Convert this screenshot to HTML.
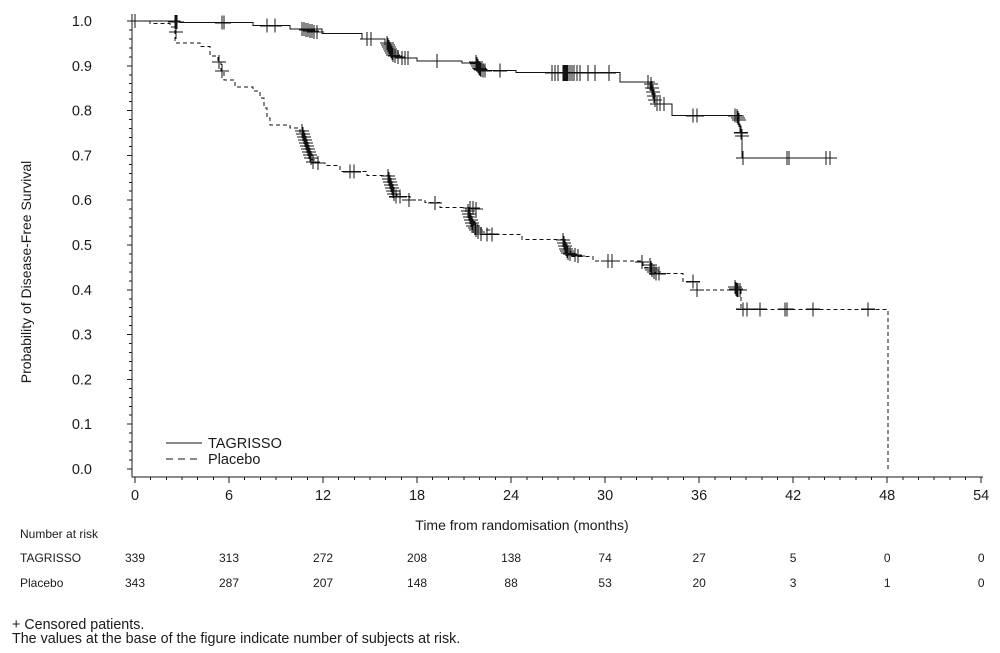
<!DOCTYPE html>
<html><head><meta charset="utf-8"><style>
html,body{margin:0;padding:0;background:#fff;}
svg{display:block;}
text{font-family:"Liberation Sans",Arial,sans-serif;fill:#1a1a1a;}
</style></head><body>
<svg width="1000" height="653" viewBox="0 0 1000 653" xmlns="http://www.w3.org/2000/svg">
<rect width="1000" height="653" fill="#fff"/>
<!-- axes -->
<g stroke="#1a1a1a" stroke-width="1" fill="none" shape-rendering="crispEdges">
<path d="M132,14V477H983"/>
<path d="M132,469h-5M132,424.2h-5M132,379.4h-5M132,334.6h-5M132,289.8h-5M132,245h-5M132,200.2h-5M132,155.4h-5M132,110.6h-5M132,65.8h-5M132,21h-5"/>
<path d="M132,460.04h-3M132,451.08h-3M132,442.12h-3M132,433.16h-3M132,415.24h-3M132,406.28h-3M132,397.32h-3M132,388.36h-3M132,370.44h-3M132,361.48h-3M132,352.52h-3M132,343.56h-3M132,325.64h-3M132,316.68h-3M132,307.72h-3M132,298.76h-3M132,280.84h-3M132,271.88h-3M132,262.92h-3M132,253.96h-3M132,236.04h-3M132,227.08h-3M132,218.12h-3M132,209.16h-3M132,191.24h-3M132,182.28h-3M132,173.32h-3M132,164.36h-3M132,146.44h-3M132,137.48h-3M132,128.52h-3M132,119.56h-3M132,101.64h-3M132,92.68h-3M132,83.72h-3M132,74.76h-3M132,56.84h-3M132,47.88h-3M132,38.92h-3M132,29.96h-3"/>
<path d="M135,477v6M229.02,477v6M323.04,477v6M417.06,477v6M511.08,477v6M605.1,477v6M699.12,477v6M793.14,477v6M887.16,477v6M981.18,477v6"/>
<path d="M150.67,477v3M166.34,477v3M182.01,477v3M197.68,477v3M213.35,477v3M244.69,477v3M260.36,477v3M276.03,477v3M291.7,477v3M307.37,477v3M338.71,477v3M354.38,477v3M370.05,477v3M385.72,477v3M401.39,477v3M432.73,477v3M448.4,477v3M464.07,477v3M479.74,477v3M495.41,477v3M526.75,477v3M542.42,477v3M558.09,477v3M573.76,477v3M589.43,477v3M620.77,477v3M636.44,477v3M652.11,477v3M667.78,477v3M683.45,477v3M714.79,477v3M730.46,477v3M746.13,477v3M761.8,477v3M777.47,477v3M808.81,477v3M824.48,477v3M840.15,477v3M855.82,477v3M871.49,477v3M902.83,477v3M918.5,477v3M934.17,477v3M949.84,477v3M965.51,477v3"/>
</g>
<!-- y tick labels -->
<g font-size="14.5" text-anchor="end">
<text x="92" y="474">0.0</text>
<text x="92" y="429.2">0.1</text>
<text x="92" y="384.4">0.2</text>
<text x="92" y="339.6">0.3</text>
<text x="92" y="294.8">0.4</text>
<text x="92" y="250">0.5</text>
<text x="92" y="205.2">0.6</text>
<text x="92" y="160.4">0.7</text>
<text x="92" y="115.6">0.8</text>
<text x="92" y="70.8">0.9</text>
<text x="92" y="26">1.0</text>
</g>
<!-- x tick labels -->
<g font-size="14.5" text-anchor="middle">
<text x="135" y="500">0</text>
<text x="229.02" y="500">6</text>
<text x="323.04" y="500">12</text>
<text x="417.06" y="500">18</text>
<text x="511.08" y="500">24</text>
<text x="605.1" y="500">30</text>
<text x="699.12" y="500">36</text>
<text x="793.14" y="500">42</text>
<text x="887.16" y="500">48</text>
<text x="981.18" y="500">54</text>
</g>
<text x="522" y="530" font-size="14" text-anchor="middle">Time from randomisation (months)</text>
<text transform="translate(31,272) rotate(-90)" font-size="14" text-anchor="middle">Probability of Disease-Free Survival</text>

<!-- TAGRISSO curve -->
<path fill="none" stroke="#111" stroke-width="1" shape-rendering="crispEdges" d="M135,21H180V22.7H253V25.7H290V29H322V33.5H362V39H385V45H389V52H393V56H397V58H417V61H462V63H476V66H480V70.7H516V72.7H620V82H650V90H653V98H655V104H672V115.7H738V124H740V132.7H742V158H835"/>
<!-- TAGRISSO censors -->
<path fill="none" stroke="#111" stroke-width="1.2" shape-rendering="crispEdges" d="M135,21m-7,0h14m-7,-7v14M175,22m-7,0h14m-7,-7v14M176,22m-7,0h14m-7,-7v14M177,22m-7,0h14m-7,-7v14M222,22.7m-7,0h14m-7,-7v14M224,22.7m-7,0h14m-7,-7v14M267,25.7m-7,0h14m-7,-7v14M275,25.7m-7,0h14m-7,-7v14M302,29m-7,0h14m-7,-7v14M304,29m-7,0h14m-7,-7v14M306,30m-7,0h14m-7,-7v14M308,30m-7,0h14m-7,-7v14M310,31m-7,0h14m-7,-7v14M312,31m-7,0h14m-7,-7v14M314,32m-7,0h14m-7,-7v14M317,32m-7,0h14m-7,-7v14M367,39m-7,0h14m-7,-7v14M371,39m-7,0h14m-7,-7v14M387,43m-7,0h14m-7,-7v14M388,45m-7,0h14m-7,-7v14M389,47m-7,0h14m-7,-7v14M390,49m-7,0h14m-7,-7v14M391,51m-7,0h14m-7,-7v14M392,53m-7,0h14m-7,-7v14M393,55m-7,0h14m-7,-7v14M395,56m-7,0h14m-7,-7v14M398,57m-7,0h14m-7,-7v14M402,58m-7,0h14m-7,-7v14M405,58m-7,0h14m-7,-7v14M408,58m-7,0h14m-7,-7v14M437,61m-7,0h14m-7,-7v14M476,62m-7,0h14m-7,-7v14M477,64m-7,0h14m-7,-7v14M478,66m-7,0h14m-7,-7v14M479,68m-7,0h14m-7,-7v14M480,69m-7,0h14m-7,-7v14M481,70m-7,0h14m-7,-7v14M483,70.7m-7,0h14m-7,-7v14M485,70.7m-7,0h14m-7,-7v14M500,70.7m-7,0h14m-7,-7v14M552,73m-7,0h14m-7,-8v16M555,73m-7,0h14m-7,-8v16M558,73m-7,0h14m-7,-8v16M563,73m-7,0h14m-7,-8v16M564,73m-7,0h14m-7,-8v16M565,73m-7,0h14m-7,-8v16M566,73m-7,0h14m-7,-8v16M567,73m-7,0h14m-7,-8v16M568,73m-7,0h14m-7,-8v16M570,73m-7,0h14m-7,-8v16M572,73m-7,0h14m-7,-8v16M574,73m-7,0h14m-7,-8v16M577,73m-7,0h14m-7,-8v16M580,73m-7,0h14m-7,-8v16M588,73m-7,0h14m-7,-8v16M595,73m-7,0h14m-7,-8v16M609,73m-7,0h14m-7,-8v16M648,82m-7,0h14m-7,-7v14M651,84m-7,0h14m-7,-7v14M652,88m-7,0h14m-7,-7v14M653,92m-7,0h14m-7,-7v14M654,96m-7,0h14m-7,-7v14M655,100m-7,0h14m-7,-7v14M657,104m-7,0h14m-7,-7v14M660,104m-7,0h14m-7,-7v14M664,104m-7,0h14m-7,-7v14M693,115.7m-7,0h14m-7,-7v14M697,115.7m-7,0h14m-7,-7v14M735,115.7m-7,0h14m-7,-7v14M737,116m-7,0h14m-7,-7v14M738,118m-7,0h14m-7,-7v14M739,120m-7,0h14m-7,-7v14M741,132.7m-7,0h14m-7,-7v14M742,136m-7,0h14m-7,-7v14M743,158m-7,0h14m-7,-7v14M787,158m-7,0h14m-7,-7v14M789,158m-7,0h14m-7,-7v14M826,158m-7,0h14m-7,-7v14M830,158m-7,0h14m-7,-7v14"/>

<!-- Placebo curve -->
<path fill="none" stroke="#111" stroke-width="1" stroke-dasharray="4 3" shape-rendering="crispEdges" d="M135,21H150V23.3H170V27H175V43H200V46.7H210V56H218V62H221V71H224V80H235V87H253V91H260V98H264V108H267V118H270V125H290V128H300V134H303V140H306V147H309V154H312V160H318V163H325V165.7H340V171.7H367V175.7H388V182H391V188H394V194H397V196.7H410V200H425V202.3H440V207.7H466V213H470V219H474V225H478V230H490V234.3H522V239.3H564V245H567V251H571V256.7H593V261H643V267.7H652V272H655V273.7H683V281.7H697V290H741V309.3H888V469"/>
<!-- Placebo censors -->
<path fill="none" stroke="#111" stroke-width="1.2" shape-rendering="crispEdges" d="M176,32m-7,0h14m-7,-7v14M219,62m-7,0h14m-7,-7v14M222,71m-7,0h14m-7,-7v14M302,131m-7,0h14m-7,-7v14M303,134m-7,0h14m-7,-7v14M304,137m-7,0h14m-7,-7v14M305,140m-7,0h14m-7,-7v14M306,143m-7,0h14m-7,-7v14M307,146m-7,0h14m-7,-7v14M308,149m-7,0h14m-7,-7v14M309,152m-7,0h14m-7,-7v14M310,155m-7,0h14m-7,-7v14M311,158m-7,0h14m-7,-7v14M313,162m-7,0h14m-7,-7v14M318,163m-7,0h14m-7,-7v14M350,171.7m-7,0h14m-7,-7v14M354,171.7m-7,0h14m-7,-7v14M388,176m-7,0h14m-7,-7v14M389,179m-7,0h14m-7,-7v14M390,182m-7,0h14m-7,-7v14M391,185m-7,0h14m-7,-7v14M392,188m-7,0h14m-7,-7v14M393,191m-7,0h14m-7,-7v14M394,194m-7,0h14m-7,-7v14M396,196.7m-7,0h14m-7,-7v14M400,196.7m-7,0h14m-7,-7v14M409,200m-7,0h14m-7,-7v14M435,203m-7,0h14m-7,-7v14M470,208m-7,0h14m-7,-7v14M473,208m-7,0h14m-7,-7v14M476,209m-7,0h14m-7,-7v14M468,211m-7,0h14m-7,-7v14M469,214m-7,0h14m-7,-7v14M470,217m-7,0h14m-7,-7v14M471,220m-7,0h14m-7,-7v14M472,223m-7,0h14m-7,-7v14M473,226m-7,0h14m-7,-7v14M475,228m-7,0h14m-7,-7v14M476,230m-7,0h14m-7,-7v14M478,232m-7,0h14m-7,-7v14M481,234m-7,0h14m-7,-7v14M487,234.3m-7,0h14m-7,-7v14M492,234.3m-7,0h14m-7,-7v14M563,240m-7,0h14m-7,-7v14M564,243m-7,0h14m-7,-7v14M565,246m-7,0h14m-7,-7v14M566,249m-7,0h14m-7,-7v14M567,251m-7,0h14m-7,-7v14M568,253m-7,0h14m-7,-7v14M570,254m-7,0h14m-7,-7v14M575,255m-7,0h14m-7,-7v14M578,256m-7,0h14m-7,-7v14M608,261m-7,0h14m-7,-7v14M612,261m-7,0h14m-7,-7v14M642,262m-7,0h14m-7,-7v14M650,265m-7,0h14m-7,-7v14M651,268m-7,0h14m-7,-7v14M652,270m-7,0h14m-7,-7v14M654,272m-7,0h14m-7,-7v14M656,273.7m-7,0h14m-7,-7v14M659,273.7m-7,0h14m-7,-7v14M693,281.7m-7,0h14m-7,-7v14M697,290m-7,0h14m-7,-7v14M735,287m-7,0h14m-7,-7v14M736,289m-7,0h14m-7,-7v14M737,290m-7,0h14m-7,-7v14M738,290m-7,0h14m-7,-7v14M740,290m-7,0h14m-7,-7v14M743,309.3m-7,0h14m-7,-7v14M747,309.3m-7,0h14m-7,-7v14M760,309.3m-7,0h14m-7,-7v14M785,309.3m-7,0h14m-7,-7v14M787,309.3m-7,0h14m-7,-7v14M813,309.3m-7,0h14m-7,-7v14M868,309.3m-7,0h14m-7,-7v14"/>

<!-- legend -->
<line x1="166" y1="443" x2="202" y2="443" stroke="#111" stroke-width="1" shape-rendering="crispEdges"/>
<line x1="166" y1="459" x2="202" y2="459" stroke="#111" stroke-width="1" stroke-dasharray="7 5" shape-rendering="crispEdges"/>
<text x="208" y="448" font-size="14.5">TAGRISSO</text>
<text x="208" y="464" font-size="14.5">Placebo</text>

<!-- risk table -->
<g font-size="12">
<text x="20" y="538">Number at risk</text>
<text x="20" y="562">TAGRISSO</text>
<text x="20" y="587">Placebo</text>
</g>
<g font-size="12" text-anchor="middle">
<text x="135" y="562">339</text>
<text x="229.02" y="562">313</text>
<text x="323.04" y="562">272</text>
<text x="417.06" y="562">208</text>
<text x="511.08" y="562">138</text>
<text x="605.1" y="562">74</text>
<text x="699.12" y="562">27</text>
<text x="793.14" y="562">5</text>
<text x="887.16" y="562">0</text>
<text x="981.18" y="562">0</text>
<text x="135" y="587">343</text>
<text x="229.02" y="587">287</text>
<text x="323.04" y="587">207</text>
<text x="417.06" y="587">148</text>
<text x="511.08" y="587">88</text>
<text x="605.1" y="587">53</text>
<text x="699.12" y="587">20</text>
<text x="793.14" y="587">3</text>
<text x="887.16" y="587">1</text>
<text x="981.18" y="587">0</text>
</g>

<!-- footnotes -->
<text x="12" y="629" font-size="14.3">+ Censored patients.</text>
<text x="12" y="643" font-size="14.3">The values at the base of the figure indicate number of subjects at risk.</text>
</svg>
</body></html>
